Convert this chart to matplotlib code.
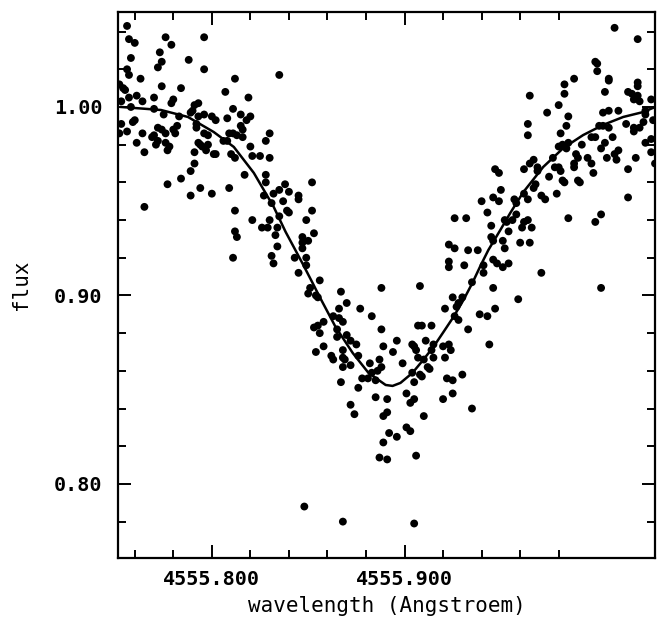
import matplotlib
matplotlib.use('Agg')
import matplotlib.pyplot as plt
import numpy as np

# observed spectrum (wavelength in Angstroem, normalised flux)
obs_wave = [
    4555.756, 4555.757, 4555.760, 4555.776, 4555.779, 4555.796, 4555.758, 4555.773, 4555.774, 4555.772,
    4555.788, 4555.796, 4555.756, 4555.757, 4555.763, 4555.835, 4555.812, 4555.752, 4555.754, 4555.755,
    4555.757, 4555.774, 4555.784, 4555.807, 4555.819, 4555.761, 4555.770, 4555.780, 4555.779, 4555.764,
    4555.753, 4555.758, 4555.793, 4555.791, 4555.790, 4555.789, 4555.811, 4555.770, 4555.775, 4555.783,
    4555.793, 4555.796, 4555.800, 4555.802, 4555.808, 4555.815, 4555.820, 4555.818, 4555.760, 4555.759,
    4555.753, 4555.782, 4555.792, 4555.792, 4555.772, 4555.774, 4555.815, 4555.816, 4555.756, 4555.764,
    4555.770, 4555.769, 4555.776, 4555.780, 4555.781, 4555.752, 4555.798, 4555.796, 4555.809, 4555.811,
    4555.813, 4555.816, 4555.830, 4555.828, 4555.806, 4555.808, 4555.761, 4555.771, 4555.772, 4555.776,
    4555.778, 4555.777, 4555.793, 4555.794, 4555.795, 4555.797, 4555.798, 4555.801, 4555.802, 4555.810,
    4555.812, 4555.820, 4555.821, 4555.825, 4555.830, 4555.765, 4555.791, 4555.791, 4555.789, 4555.817,
    4555.828, 4555.784, 4555.777, 4555.828, 4555.809, 4555.794, 4555.789, 4555.800, 4555.835, 4555.838,
    4555.840, 4555.832, 4555.827, 4555.831, 4555.837, 4555.765, 4555.812, 4555.839, 4555.840, 4555.821,
    4555.830, 4555.835, 4555.826, 4555.829, 4555.834,
    4555.812, 4555.813, 4555.811, 4555.831, 4555.832, 4555.834, 4555.833,
    4555.852, 4555.845, 4555.845, 4555.852, 4555.849, 4555.853, 4555.847, 4555.847, 4555.850, 4555.847,
    4555.843, 4555.849, 4555.849, 4555.845, 4555.856, 4555.851, 4555.850, 4555.854, 4555.855, 4555.867,
    4555.888, 4555.908, 4555.926, 4555.932, 4555.923, 4555.926, 4555.923, 4555.923, 4555.931, 4555.925,
    4555.930, 4555.928, 4555.927, 4555.921, 4555.926, 4555.928, 4555.870, 4555.866, 4555.877, 4555.863,
    4555.866, 4555.868, 4555.883, 4555.858, 4555.853, 4555.855, 4555.856, 4555.865, 4555.865, 4555.888,
    4555.907, 4555.909, 4555.914, 4555.870, 4555.872, 4555.875, 4555.858, 4555.854, 4555.868, 4555.868,
    4555.869, 4555.862, 4555.863, 4555.876, 4555.889, 4555.896, 4555.894, 4555.904, 4555.905, 4555.906,
    4555.907, 4555.911, 4555.915, 4555.914, 4555.920, 4555.923, 4555.924, 4555.921, 4555.915, 4555.910,
    4555.899, 4555.882, 4555.887, 4555.888, 4555.886, 4555.883, 4555.868, 4555.872, 4555.912, 4555.913,
    4555.904, 4555.908, 4555.909, 4555.878, 4555.881, 4555.885, 4555.867, 4555.876, 4555.905, 4555.922,
    4555.925, 4555.930,
    4555.885, 4555.891, 4555.872, 4555.874, 4555.889, 4555.891, 4555.901, 4555.903, 4555.910, 4555.905,
    4555.903, 4555.920, 4555.925, 4555.935, 4555.892, 4555.896, 4555.889, 4555.887, 4555.891, 4555.906,
    4555.901, 4555.868, 4555.905, 4555.848, 4555.933, 4555.939, 4555.943, 4555.947, 4555.944,
    4556.009, 4556.021, 4555.999, 4556.000, 4556.000, 4555.988, 4555.983, 4555.983, 4556.006, 4556.006,
    4556.004, 4556.021, 4556.021, 4556.016, 4556.018, 4556.019, 4556.021, 4556.022, 4556.028, 4555.965,
    4555.980, 4555.974, 4555.985, 4556.003, 4556.006, 4556.011, 4556.025, 4556.025, 4556.029, 4555.964,
    4555.964, 4555.984, 4556.001, 4556.003, 4556.006, 4556.015, 4556.019, 4556.019, 4556.022, 4556.024,
    4555.981, 4555.997, 4555.999, 4556.008, 4556.004, 4556.025, 4556.028, 4556.028, 4556.030, 4555.980,
    4555.982, 4555.984, 4555.985, 4555.992, 4555.989, 4555.990, 4556.002, 4556.005, 4556.009, 4556.010,
    4556.011, 4556.020, 4555.995, 4555.997, 4555.998, 4555.977, 4555.978, 4555.980, 4555.981, 4555.988,
    4555.988, 4555.982, 4555.983, 4555.990, 4555.991, 4556.016, 4556.016, 4555.962, 4555.965, 4555.967,
    4555.969, 4555.969, 4555.968, 4555.967, 4555.962, 4555.964, 4555.971, 4555.973, 4555.979, 4555.975,
    4555.985, 4555.999, 4556.002, 4556.002, 4555.971, 4555.959, 4555.957, 4555.958, 4555.950, 4555.946,
    4555.949, 4555.940, 4555.947, 4555.949, 4555.943, 4555.952, 4555.956, 4555.958, 4555.962, 4555.961,
    4555.964, 4555.966, 4555.960, 4555.965, 4555.954, 4555.953, 4555.951, 4555.952, 4555.945, 4555.945,
    4555.946, 4555.946, 4555.948, 4555.951, 4555.954, 4555.941, 4555.941, 4555.946, 4555.935, 4555.933,
    4555.938,
]
obs_flux = [
    1.043, 1.036, 1.034, 1.037, 1.033, 1.037, 1.026, 1.029, 1.024, 1.021,
    1.025, 1.020, 1.020, 1.017, 1.015, 1.017, 1.015, 1.012, 1.010, 1.009,
    1.005, 1.011, 1.010, 1.008, 1.005, 1.006, 1.005, 1.004, 1.002, 1.003,
    1.003, 1.000, 1.002, 1.001, 0.998, 0.997, 0.999, 0.999, 0.996, 0.995,
    0.995, 0.996, 0.995, 0.993, 0.994, 0.996, 0.995, 0.993, 0.993, 0.992,
    0.991, 0.990, 0.991, 0.989, 0.989, 0.988, 0.990, 0.988, 0.987, 0.986,
    0.985, 0.984, 0.986, 0.988, 0.986, 0.986, 0.985, 0.986, 0.986, 0.986,
    0.985, 0.984, 0.986, 0.982, 0.982, 0.982, 0.981, 0.980, 0.982, 0.981,
    0.979, 0.977, 0.981, 0.980, 0.979, 0.977, 0.980, 0.975, 0.975, 0.975,
    0.973, 0.979, 0.974, 0.974, 0.973, 0.976, 0.976, 0.970, 0.966, 0.964,
    0.964, 0.962, 0.959, 0.960, 0.957, 0.957, 0.953, 0.954, 0.956, 0.959,
    0.955, 0.954, 0.953, 0.949, 0.950, 0.947, 0.945, 0.945, 0.944, 0.940,
    0.940, 0.942, 0.936, 0.936, 0.936,
    0.934, 0.931, 0.920, 0.921, 0.917, 0.926, 0.932,
    0.960, 0.953, 0.951, 0.945, 0.940, 0.933, 0.931, 0.928, 0.929, 0.925,
    0.920, 0.920, 0.916, 0.912, 0.908, 0.904, 0.901, 0.900, 0.899, 0.902,
    0.904, 0.905, 0.941, 0.941, 0.927, 0.925, 0.918, 0.915, 0.916, 0.899,
    0.899, 0.896, 0.894, 0.893, 0.889, 0.887, 0.896, 0.893, 0.893, 0.889,
    0.888, 0.886, 0.889, 0.886, 0.883, 0.884, 0.880, 0.882, 0.878, 0.882,
    0.884, 0.884, 0.884, 0.879, 0.876, 0.874, 0.873, 0.870, 0.871, 0.867,
    0.866, 0.868, 0.866, 0.868, 0.873, 0.876, 0.870, 0.874, 0.873, 0.871,
    0.867, 0.876, 0.874, 0.871, 0.873, 0.874, 0.871, 0.867, 0.867, 0.866,
    0.864, 0.864, 0.866, 0.862, 0.860, 0.859, 0.862, 0.863, 0.862, 0.861,
    0.859, 0.858, 0.857, 0.856, 0.856, 0.855, 0.854, 0.851, 0.854, 0.856,
    0.855, 0.858,
    0.846, 0.845, 0.842, 0.837, 0.836, 0.838, 0.830, 0.828, 0.836, 0.845,
    0.843, 0.845, 0.848, 0.840, 0.827, 0.825, 0.822, 0.814, 0.813, 0.815,
    0.848, 0.780, 0.779, 0.788, 0.882, 0.890, 0.889, 0.893, 0.874,
    1.042, 1.036, 1.024, 1.023, 1.019, 1.015, 1.012, 1.007, 1.015, 1.014,
    1.008, 1.013, 1.011, 1.008, 1.007, 1.004, 1.006, 1.003, 1.004, 1.006,
    1.001, 0.997, 0.995, 0.997, 0.998, 0.998, 0.998, 0.996, 0.993, 0.991,
    0.985, 0.990, 0.990, 0.990, 0.989, 0.991, 0.989, 0.987, 0.989, 0.992,
    0.986, 0.984, 0.984, 0.984, 0.981, 0.981, 0.983, 0.976, 0.970, 0.979,
    0.980, 0.978, 0.981, 0.980, 0.975, 0.973, 0.978, 0.973, 0.975, 0.972,
    0.977, 0.973, 0.973, 0.970, 0.965, 0.973, 0.968, 0.968, 0.966, 0.970,
    0.968, 0.961, 0.960, 0.961, 0.960, 0.967, 0.952, 0.967, 0.970, 0.972,
    0.968, 0.966, 0.959, 0.957, 0.954, 0.951, 0.953, 0.951, 0.954, 0.963,
    0.941, 0.939, 0.943, 0.904, 0.912, 0.898, 0.951, 0.949, 0.956, 0.952,
    0.950, 0.950, 0.967, 0.965, 0.944, 0.940, 0.940, 0.943, 0.939, 0.936,
    0.940, 0.936, 0.928, 0.928, 0.934, 0.939, 0.929, 0.925, 0.937, 0.931,
    0.929, 0.919, 0.917, 0.915, 0.917, 0.916, 0.912, 0.904, 0.907, 0.924,
    0.924,
]

# fitted profile
fit_wave = [4555.7529, 4555.7736, 4555.7876, 4555.8010, 4555.8114, 4555.8218, 4555.8321, 4555.8383,
            4555.8425, 4555.8472, 4555.8528, 4555.8554, 4555.8642, 4555.8731, 4555.8813, 4555.8902,
            4555.8938, 4555.8979, 4555.9041, 4555.9093, 4555.9150, 4555.9202, 4555.9254, 4555.9306,
            4555.9352, 4555.9394, 4555.9435, 4555.9497, 4555.9549, 4555.9617, 4555.9720, 4555.9824,
            4555.9927, 4556.0031, 4556.0135, 4556.0238, 4556.0301]
fit_flux = [1.0000, 0.9984, 0.9947, 0.9867, 0.9788, 0.9650, 0.9470, 0.9337,
            0.9257, 0.9167, 0.9056, 0.9003, 0.8833, 0.8695, 0.8589, 0.8525,
            0.8520, 0.8536, 0.8589, 0.8653, 0.8727, 0.8806, 0.8886, 0.8976,
            0.9066, 0.9157, 0.9241, 0.9347, 0.9438, 0.9549, 0.9682, 0.9782,
            0.9851, 0.9905, 0.9947, 0.9973, 1.0000]

x_major = [4555.8, 4555.9]
x_major_labels = ['4555.800', '4555.900']
x_minor = [4555.76, 4555.78, 4555.82, 4555.84, 4555.86, 4555.88, 4555.92, 4555.94, 4555.96, 4555.98]
y_major = [0.80, 0.90, 1.00]
y_major_labels = ['0.80', '0.90', '1.00']
y_minor = [0.78, 0.82, 0.84, 0.86, 0.88, 0.92, 0.94, 0.96, 0.98, 1.02, 1.04]

plt.rcParams['font.family'] = ['DejaVu Sans Mono', 'DejaVu Sans']
plt.rcParams['font.weight'] = 'bold'

fig = plt.figure(figsize=(6.57, 6.18), dpi=100)
ax = fig.add_axes([0.1796, 0.0971, 0.8174, 0.8835])

ax.scatter(obs_wave, obs_flux, s=32, c='black', edgecolors='none', zorder=3)
ax.plot(fit_wave, fit_flux, color='black', lw=1.8, zorder=2)

ax.set_xlim(4555.7513, 4556.0300)
ax.set_ylim(0.7607, 1.0504)

ax.set_xticks(x_major)
ax.set_xticklabels(x_major_labels)
ax.set_xticks(x_minor, minor=True)
ax.set_yticks(y_major)
ax.set_yticklabels(y_major_labels)
ax.set_yticks(y_minor, minor=True)

ax.tick_params(which='both', direction='in', top=True, right=True, width=1.4, labelsize=14.5)
ax.tick_params(which='major', length=9.5)
ax.tick_params(which='minor', length=6)
ax.tick_params(axis='x', which='major', pad=9)
ax.tick_params(axis='y', which='major', pad=11)

for sp in ax.spines.values():
    sp.set_linewidth(1.6)

ax.set_xlabel('wavelength (Angstroem)', fontsize=15, labelpad=5)
ax.set_ylabel('flux', fontsize=15, labelpad=17)

fig.savefig('out.png', dpi=100)
